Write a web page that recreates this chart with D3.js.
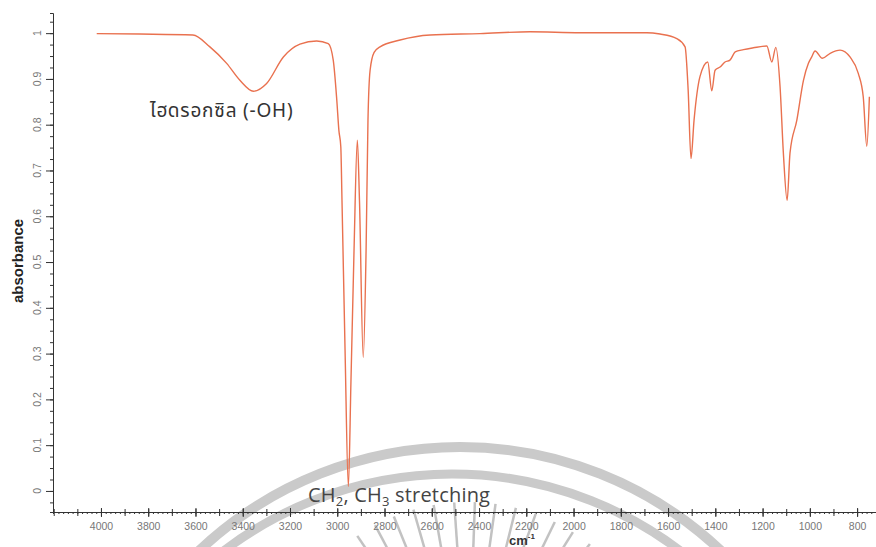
<!DOCTYPE html>
<html>
<head>
<meta charset="utf-8">
<script src="https://cdn.jsdelivr.net/npm/d3@7"></script>
<style>
  html, body { margin: 0; padding: 0; background: #fff; }
  #chart { width: 876px; height: 547px; overflow: hidden; }
</style>
</head>
<body>
<div id="chart"></div>
<script>
// IR spectrum (cm-1, absorbance)
const wavenumber = [4018, 3835, 3611, 3539, 3468, 3412, 3355, 3299, 3228, 3158, 3087, 3038, 3017, 3002, 2993, 2985, 2980, 2967, 2953, 2942, 2929, 2915, 2906, 2890, 2878, 2870, 2861, 2844, 2819, 2734, 2607, 2396, 2184, 1972, 1690, 1634, 1563, 1528, 1515, 1503, 1490, 1465, 1432, 1415, 1401, 1380, 1359, 1338, 1316, 1281, 1239, 1182, 1161, 1144, 1126, 1112, 1096, 1084, 1055, 1027, 1006, 992, 978, 947, 914, 872, 830, 795, 774, 759, 748];
const absorbance = [0.999, 0.998, 0.996, 0.970, 0.934, 0.897, 0.873, 0.890, 0.948, 0.976, 0.983, 0.977, 0.941, 0.854, 0.787, 0.752, 0.635, 0.308, 0.010, 0.240, 0.526, 0.766, 0.635, 0.292, 0.526, 0.810, 0.919, 0.958, 0.970, 0.985, 0.996, 0.999, 1.003, 1.001, 1.001, 0.998, 0.988, 0.970, 0.876, 0.726, 0.810, 0.905, 0.937, 0.874, 0.919, 0.926, 0.937, 0.941, 0.959, 0.964, 0.968, 0.972, 0.937, 0.969, 0.883, 0.738, 0.635, 0.738, 0.810, 0.897, 0.934, 0.948, 0.961, 0.945, 0.956, 0.963, 0.948, 0.912, 0.861, 0.753, 0.861];

const xTickValues = [4000, 3800, 3600, 3400, 3200, 3000, 2800, 2600, 2400, 2200, 2000, 1800, 1600, 1400, 1200, 1000, 800];
const yTickValues = [0, 0.1, 0.2, 0.3, 0.4, 0.5, 0.6, 0.7, 0.8, 0.9, 1];
const yTickLabels = ["0", "0.1", "0.2", "0.3", "0.4", "0.5", "0.6", "0.7", "0.8", "0.9", "1"];

const ohLabel = "ไฮดรอกซิล (-OH)";
const yTitle = "absorbance";

const W = 876, H = 547;
const spectrum = wavenumber.map((w, i) => ({ w: w, a: absorbance[i] }));
const tickFont = "'Liberation Sans Narrow', 'Liberation Sans', Arial, sans-serif";

var svg = d3.select("#chart")
    .append("svg")
    .attr("width", W)
    .attr("height", H)
    .attr("viewBox", `0 0 ${W} ${H}`);

// scales: wavenumber runs right to left
var x = d3.scaleLinear().domain([4203, 720]).range([53, 876]);
var y = d3.scaleLinear().domain([-0.046, 1.044]).range([512, 13]);

// faint watermark behind the plot (arcs + rays)
const wm = svg.append("g").attr("fill", "none").attr("stroke", "#cacaca");
wm.append("circle").attr("cx", 460).attr("cy", 827).attr("r", 380).attr("stroke-width", 10);
wm.append("circle").attr("cx", 452).attr("cy", 851).attr("r", 377).attr("stroke-width", 9);
d3.range(-130, -48, 6).forEach((deg) => {
    const t = deg * Math.PI / 180;
    wm.append("line")
        .attr("x1", 468 + 150 * Math.cos(t)).attr("y1", 700 + 150 * Math.sin(t))
        .attr("x2", 468 + 198 * Math.cos(t)).attr("y2", 700 + 198 * Math.sin(t))
        .attr("stroke", "#c2c2c2")
        .attr("stroke-width", 2.5);
});

// X axis: labelled ticks every 200, crossing ticks every 100, dots every 20
const axisColor = "#333";
const gx = svg.append("g").attr("transform", "translate(0,512)");
gx.call(d3.axisBottom(x).tickValues(d3.range(720, 4200, 20)).tickSize(2).tickFormat(""));
gx.append("g").call(d3.axisBottom(x).tickValues(d3.range(800, 4201, 100)).tickSize(4).tickFormat(""));
gx.append("g").call(d3.axisTop(x).tickValues(d3.range(800, 4201, 100)).tickSize(3).tickFormat(""));
gx.append("g").call(d3.axisBottom(x).tickValues(xTickValues).tickSize(5).tickFormat(d3.format("d")));
gx.append("g").call(d3.axisTop(x).tickValues(xTickValues).tickSize(4).tickFormat(""));
gx.selectAll(".domain").filter((d, i) => i > 0).remove();
gx.selectAll(".domain").attr("stroke", axisColor);
gx.selectAll("line").attr("stroke", axisColor);
gx.selectAll("text")
    .attr("y", 11)
    .style("font-family", tickFont)
    .style("font-size", "10.5px")
    .attr("fill", "#777");

// Y axis: major ticks every 0.1, small ticks every 0.025
const gy = svg.append("g").attr("transform", "translate(53,0)");
gy.call(d3.axisLeft(y).tickValues(d3.range(-0.025, 1.04, 0.025)).tickSize(3).tickFormat(""));
gy.append("g").call(d3.axisLeft(y).tickValues(yTickValues).tickSize(7).tickFormat(""));
gy.selectAll(".domain").filter((d, i) => i > 0).remove();
gy.selectAll(".domain").attr("stroke", axisColor);
gy.selectAll("line").attr("stroke", axisColor);

// rotated y tick labels
svg.append("g")
    .selectAll("text")
    .data(yTickValues)
    .enter()
    .append("text")
    .attr("transform", d => `translate(41,${y(d)}) rotate(-90)`)
    .attr("text-anchor", "middle")
    .style("font-family", tickFont)
    .style("font-size", "10.5px")
    .attr("fill", "#777")
    .text((d, i) => yTickLabels[i]);

// axis titles
svg.append("text")
    .attr("transform", "translate(23,261) rotate(-90)")
    .attr("text-anchor", "middle")
    .style("font-family", "'Liberation Sans', Arial, sans-serif")
    .style("font-size", "15px")
    .style("font-weight", "bold")
    .attr("fill", "#222")
    .text(yTitle);

const unit = svg.append("text")
    .attr("x", 509).attr("y", 545)
    .style("font-family", "'Liberation Sans', Arial, sans-serif")
    .style("font-size", "13px")
    .style("font-weight", "bold")
    .attr("fill", "#333");
unit.append("tspan").text("cm");
unit.append("tspan").attr("dy", -6).style("font-size", "8px").text("-1");

// spectrum line
var line = d3.line()
    .x(d => x(d.w))
    .y(d => y(d.a))
    .curve(d3.curveMonotoneX);

svg.append("path")
    .datum(spectrum)
    .attr("fill", "none")
    .attr("stroke", "#e9714f")
    .attr("stroke-width", 1.4)
    .attr("stroke-linejoin", "round")
    .attr("d", line);

// annotations
svg.append("text")
    .attr("x", 150).attr("y", 117)
    .style("font-family", "'Noto Sans Thai', 'Noto Sans', 'DejaVu Sans', sans-serif")
    .style("font-size", "19px")
    .style("letter-spacing", "0.8px")
    .attr("fill", "#333")
    .text(ohLabel);

const ch = svg.append("text")
    .attr("x", 308).attr("y", 502)
    .style("font-family", "'Open Sans', 'Noto Sans', sans-serif")
    .style("font-size", "20px")
    .style("letter-spacing", "0.2px")
    .attr("fill", "#444");
ch.append("tspan").text("CH");
ch.append("tspan").attr("dy", 4).style("font-size", "13px").text("2");
ch.append("tspan").attr("dy", -4).text(", CH");
ch.append("tspan").attr("dy", 4).style("font-size", "13px").text("3");
ch.append("tspan").attr("dy", -4).text(" stretching");
</script>
</body>
</html>
